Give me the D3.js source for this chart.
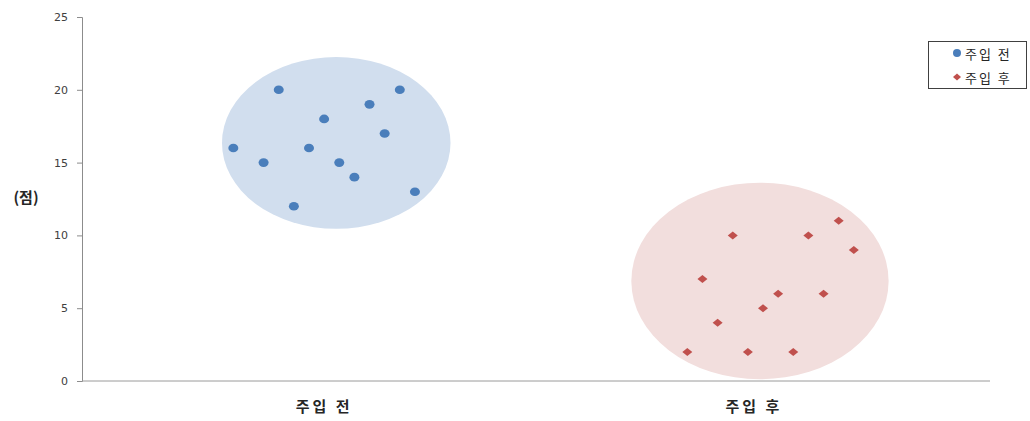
<!DOCTYPE html>
<html>
<head>
<meta charset="utf-8">
<script src="https://cdn.jsdelivr.net/npm/d3@7"></script>
<style>
  html, body { margin: 0; padding: 0; background: #fff; }
  svg { display: block; }
</style>
</head>
<body>
<div id="chart"></div>
<script>
// Scores before and after injection, plotted at sequential x positions
const seriesNames = ["주입 전", "주입 후"];
const beforeX = [10, 12, 13, 14, 15, 16, 17, 18, 19, 20, 21, 22];
const beforeY = [16, 15, 20, 12, 16, 18, 15, 14, 19, 17, 20, 13];
const afterX = [40, 41, 42, 43, 44, 45, 46, 47, 48, 49, 50, 51];
const afterY = [2, 7, 4, 10, 2, 5, 6, 2, 10, 6, 11, 9];

// Group outlines (centre and radii in data units)
const groupCx = [16.8, 44.8];
const groupCy = [16.35, 6.87];
const groupRx = [7.55, 8.5];
const groupRy = [5.9, 6.75];

// Category labels and their x positions
const categoryLabels = ["주입 전", "주입 후"];
const categoryX = [15.9, 44.3];

const yTicks = [0, 5, 10, 15, 20, 25];
const yLabel = "(점)";

const W = 1030, H = 421;
const margin = { left: 82, right: 40, top: 17, bottom: 40 };

const x = d3.scaleLinear().domain([0, 60]).range([margin.left, W - margin.right]);
const y = d3.scaleLinear().domain([0, 25]).range([H - margin.bottom, margin.top]);

const svg = d3.select("#chart").append("svg")
  .attr("width", W).attr("height", H);

const fills = ["#d1deee", "#f2dedd"];
const markColors = ["#4a7ebb", "#c0504d"];
const korFont = "'Noto Sans CJK KR', sans-serif";

// Shaded group ellipses
svg.append("g").selectAll("ellipse")
  .data(groupCx.map((cx, i) => ({ cx, cy: groupCy[i], rx: groupRx[i], ry: groupRy[i], i })))
  .join("ellipse")
  .attr("cx", d => x(d.cx))
  .attr("cy", d => y(d.cy))
  .attr("rx", d => x(d.cx + d.rx) - x(d.cx))
  .attr("ry", d => y(d.cy) - y(d.cy + d.ry))
  .attr("fill", d => fills[d.i]);

// Y axis
const yAxis = svg.append("g")
  .attr("transform", `translate(${margin.left},0)`)
  .call(d3.axisLeft(y).tickValues(yTicks).tickSize(5).tickPadding(9));
yAxis.select(".domain").attr("stroke", "#8c8c8c");
yAxis.selectAll(".tick line").attr("stroke", "#8c8c8c");
yAxis.selectAll(".tick text")
  .attr("font-family", "'DejaVu Sans', sans-serif")
  .attr("font-size", 11)
  .attr("fill", "#404040");

// X axis line
svg.append("line")
  .attr("x1", x(0)).attr("x2", x(60))
  .attr("y1", y(0)).attr("y2", y(0))
  .attr("stroke", "#9a9a9a").attr("stroke-width", 1);

// Y axis title
svg.append("text")
  .attr("x", 26).attr("y", y(12.5))
  .attr("text-anchor", "middle").attr("dominant-baseline", "middle")
  .attr("font-family", korFont).attr("font-weight", "bold")
  .attr("font-size", 15).attr("fill", "#262626")
  .text(yLabel);

// Category labels below the axis
svg.append("g").selectAll("text")
  .data(categoryLabels)
  .join("text")
  .attr("x", (d, i) => x(categoryX[i]) + 1.5)
  .attr("y", 408)
  .attr("text-anchor", "middle").attr("dominant-baseline", "middle")
  .attr("font-family", korFont).attr("font-weight", "bold")
  .attr("font-size", 15).attr("letter-spacing", 3).attr("fill", "#262626")
  .text(d => d);

// Before: circles
svg.append("g").selectAll("ellipse")
  .data(beforeX.map((v, i) => [v, beforeY[i]]))
  .join("ellipse")
  .attr("cx", d => x(d[0])).attr("cy", d => y(d[1]))
  .attr("rx", 5).attr("ry", 4.3)
  .attr("fill", markColors[0]);

// After: diamonds
const diamond = "M0,-4 L5,0 L0,4 L-5,0 Z";
svg.append("g").selectAll("path")
  .data(afterX.map((v, i) => [v, afterY[i]]))
  .join("path")
  .attr("d", diamond)
  .attr("transform", d => `translate(${x(d[0])},${y(d[1])})`)
  .attr("fill", markColors[1]);

// Legend
const lg = svg.append("g");
lg.append("rect")
  .attr("x", 928.5).attr("y", 41.5).attr("width", 98).attr("height", 47)
  .attr("fill", "#fff").attr("stroke", "#404040").attr("stroke-width", 1);
const rows = lg.selectAll("g.row")
  .data(seriesNames)
  .join("g").attr("class", "row")
  .attr("transform", (d, i) => `translate(957,${53 + i * 24})`);
rows.filter((d, i) => i === 0).append("circle")
  .attr("r", 4).attr("fill", markColors[0]);
rows.filter((d, i) => i === 1).append("path")
  .attr("d", "M0,-3.5 L4,0 L0,3.5 L-4,0 Z").attr("fill", markColors[1]);
rows.append("text")
  .attr("x", 8).attr("y", 2.5)
  .attr("dominant-baseline", "middle")
  .attr("font-family", korFont).attr("font-size", 13).attr("letter-spacing", 2)
  .attr("fill", "#262626")
  .text(d => d);
</script>
</body>
</html>
